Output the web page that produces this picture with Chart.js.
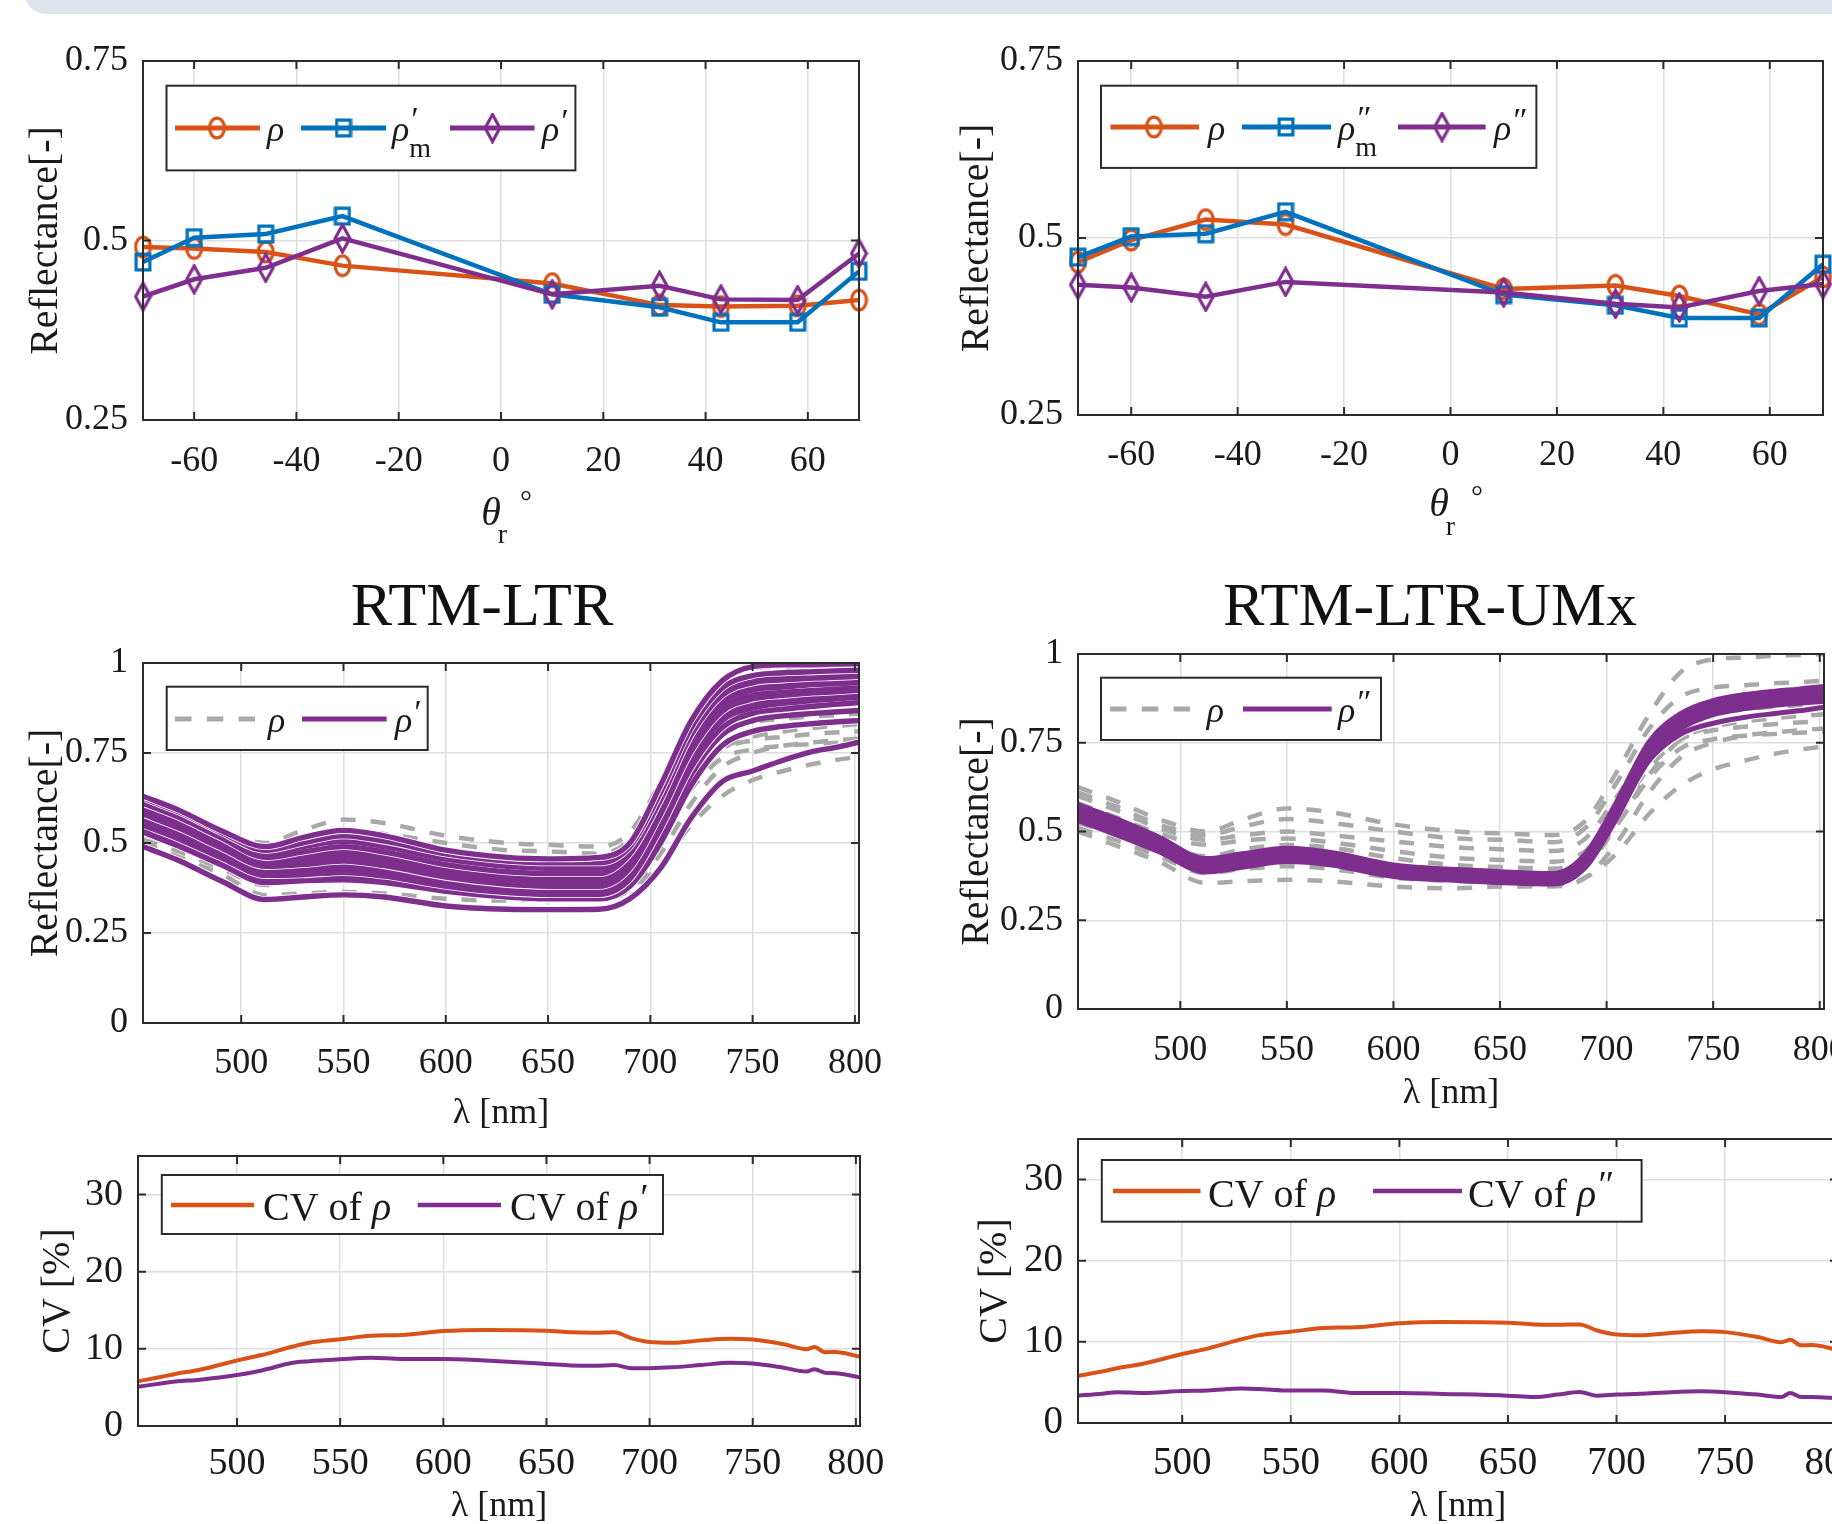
<!DOCTYPE html>
<html><head><meta charset="utf-8">
<script src="https://cdn.jsdelivr.net/npm/chart.js@4.4.0/dist/chart.umd.min.js"></script>
<style>
html,body{margin:0;padding:0;background:#fff;width:1832px;height:1524px;overflow:hidden;position:relative;}
canvas{position:absolute;}
.banner{position:absolute;left:24px;top:-30px;width:1900px;height:44px;background:#dde5ef;border-radius:30px;}
.ptitle{position:absolute;font-family:'Liberation Serif','DejaVu Serif',serif;font-size:62px;color:#111;transform:translate(-50%,-50%);white-space:nowrap;line-height:1;}
</style></head>
<body>
<div class="banner"></div>
<div class="ptitle" style="left:482px;top:604px">RTM-LTR</div>
<div class="ptitle" style="left:1430px;top:604px">RTM-LTR-UMx</div>
<script>
// ---------------- DATA ----------------
// top panels: reflected angle
const angles = [-70, -60, -46, -31, 10, 31, 43, 58, 70];
const angleTicks = [-60, -40, -20, 0, 20, 40, 60];
const angleTickLabels = ['-60', '-40', '-20', '0', '20', '40', '60'];
const reflTopTicks = [0.25, 0.5, 0.75];
const reflTopTickLabels = ['0.25', '0.5', '0.75'];
// (a) RTM-LTR
const aRho   = [0.491, 0.489, 0.484, 0.465, 0.440, 0.410, 0.408, 0.409, 0.417];
const aRhoM1 = [0.470, 0.504, 0.509, 0.534, 0.425, 0.407, 0.386, 0.386, 0.457];
const aRho1  = [0.422, 0.446, 0.462, 0.503, 0.425, 0.437, 0.418, 0.417, 0.482];
// (b) RTM-LTR-UMx
const bRho   = [0.466, 0.497, 0.526, 0.519, 0.428, 0.433, 0.418, 0.392, 0.445];
const bRhoM2 = [0.473, 0.502, 0.506, 0.537, 0.420, 0.405, 0.387, 0.387, 0.463];
const bRho2  = [0.434, 0.430, 0.417, 0.438, 0.423, 0.407, 0.402, 0.425, 0.435];

// spectra
const wl = [452, 470, 490, 512, 530, 550, 570, 600, 630, 650, 675, 690, 705, 720, 735, 750, 765, 780, 790, 802];
const wlTicks = [500, 550, 600, 650, 700, 750, 800];
const wlTickLabels = ['500', '550', '600', '650', '700', '750', '800'];
const reflTicks = [0, 0.25, 0.5, 0.75, 1];
const reflTickLabels = ['0', '0.25', '0.5', '0.75', '1'];
// measured rho (grey dashed, same in c and d)
const rhoS1 = [0.625,0.585,0.535,0.500,0.535,0.565,0.555,0.520,0.500,0.495,0.490,0.530,0.670,0.830,0.950,0.985,0.990,0.995,0.997,1.000];
const rhoS2 = [0.610,0.570,0.520,0.490,0.515,0.535,0.525,0.500,0.480,0.477,0.470,0.510,0.640,0.790,0.880,0.905,0.912,0.918,0.920,0.925];
const rhoS3 = [0.600,0.560,0.510,0.477,0.490,0.500,0.490,0.472,0.455,0.450,0.445,0.480,0.600,0.730,0.810,0.835,0.845,0.852,0.855,0.860];
const rhoS4 = [0.580,0.540,0.495,0.463,0.475,0.480,0.470,0.445,0.425,0.420,0.415,0.445,0.550,0.680,0.760,0.785,0.795,0.803,0.807,0.810];
const rhoS5 = [0.555,0.515,0.470,0.430,0.450,0.462,0.455,0.425,0.405,0.400,0.395,0.420,0.520,0.650,0.735,0.760,0.770,0.775,0.778,0.780];
const rhoS6 = [0.525,0.490,0.445,0.416,0.415,0.420,0.410,0.392,0.380,0.375,0.372,0.400,0.520,0.660,0.760,0.795,0.810,0.820,0.825,0.830];
const rhoS7 = [0.510,0.475,0.430,0.383,0.395,0.402,0.395,0.370,0.360,0.355,0.350,0.370,0.440,0.550,0.630,0.675,0.700,0.720,0.730,0.740];
const rhoS8 = [0.500,0.460,0.415,0.355,0.360,0.364,0.360,0.345,0.340,0.345,0.345,0.370,0.470,0.610,0.710,0.750,0.770,0.780,0.785,0.790];
// rho' (RTM-LTR, purple)
const rho1S1  = [0.630,0.590,0.535,0.490,0.515,0.535,0.520,0.480,0.460,0.456,0.460,0.500,0.660,0.840,0.950,0.990,0.995,0.995,0.997,0.998];
const rho1S2  = [0.625,0.585,0.530,0.480,0.500,0.520,0.505,0.470,0.450,0.445,0.445,0.490,0.640,0.820,0.930,0.965,0.973,0.976,0.978,0.980];
const rho1S3  = [0.620,0.580,0.525,0.470,0.490,0.505,0.490,0.455,0.435,0.430,0.430,0.480,0.630,0.810,0.920,0.955,0.962,0.966,0.968,0.970];
const rho1S4  = [0.610,0.570,0.515,0.460,0.475,0.490,0.475,0.440,0.420,0.415,0.415,0.470,0.620,0.800,0.910,0.945,0.953,0.958,0.960,0.963];
const rho1S5  = [0.600,0.560,0.505,0.455,0.465,0.478,0.465,0.430,0.410,0.405,0.405,0.460,0.610,0.790,0.900,0.932,0.940,0.945,0.948,0.950];
const rho1S6  = [0.595,0.555,0.500,0.450,0.458,0.470,0.455,0.420,0.400,0.395,0.395,0.450,0.600,0.780,0.890,0.925,0.933,0.940,0.942,0.945];
const rho1S7  = [0.590,0.548,0.495,0.442,0.450,0.460,0.445,0.412,0.392,0.388,0.387,0.440,0.590,0.765,0.875,0.910,0.918,0.924,0.927,0.930];
const rho1S8  = [0.580,0.540,0.487,0.435,0.440,0.450,0.437,0.405,0.385,0.380,0.380,0.430,0.580,0.755,0.865,0.900,0.910,0.917,0.920,0.924];
const rho1S9  = [0.570,0.530,0.478,0.427,0.432,0.440,0.428,0.398,0.378,0.373,0.372,0.420,0.565,0.740,0.850,0.885,0.895,0.902,0.906,0.910];
const rho1S10 = [0.560,0.520,0.470,0.418,0.420,0.428,0.418,0.390,0.370,0.365,0.365,0.410,0.555,0.730,0.840,0.875,0.888,0.896,0.900,0.905];
const rho1S11 = [0.550,0.510,0.460,0.410,0.412,0.418,0.408,0.380,0.362,0.357,0.357,0.400,0.540,0.710,0.820,0.860,0.872,0.880,0.885,0.890];
const rho1S12 = [0.540,0.500,0.450,0.400,0.400,0.405,0.397,0.372,0.355,0.350,0.350,0.390,0.520,0.690,0.800,0.840,0.853,0.860,0.864,0.868];
const rho1S13 = [0.530,0.490,0.440,0.390,0.395,0.398,0.390,0.366,0.350,0.345,0.345,0.380,0.500,0.660,0.770,0.810,0.824,0.832,0.836,0.840];
const rho1S14 = [0.490,0.450,0.395,0.343,0.350,0.356,0.350,0.325,0.316,0.315,0.316,0.345,0.430,0.570,0.670,0.700,0.730,0.755,0.765,0.780];
// rho'' (RTM-LTR-UMx, purple)
const rho2S1 = [0.575,0.535,0.483,0.423,0.437,0.452,0.441,0.405,0.392,0.386,0.381,0.435,0.585,0.752,0.832,0.868,0.885,0.895,0.900,0.908];
const rho2S2 = [0.568,0.528,0.477,0.417,0.432,0.447,0.436,0.400,0.388,0.382,0.377,0.430,0.578,0.745,0.826,0.862,0.879,0.889,0.894,0.902];
const rho2S3 = [0.562,0.522,0.471,0.411,0.426,0.441,0.431,0.395,0.383,0.377,0.373,0.425,0.572,0.739,0.820,0.856,0.873,0.883,0.888,0.896];
const rho2S4 = [0.556,0.516,0.466,0.406,0.421,0.436,0.426,0.390,0.379,0.373,0.369,0.420,0.566,0.733,0.814,0.850,0.867,0.877,0.882,0.890];
const rho2S5 = [0.550,0.510,0.460,0.401,0.416,0.431,0.421,0.386,0.375,0.369,0.365,0.415,0.560,0.727,0.808,0.845,0.862,0.872,0.877,0.885];
const rho2S6 = [0.544,0.504,0.455,0.396,0.411,0.426,0.416,0.382,0.371,0.365,0.361,0.410,0.554,0.721,0.802,0.840,0.857,0.867,0.872,0.880];
const rho2S7 = [0.538,0.498,0.449,0.391,0.406,0.421,0.411,0.378,0.367,0.361,0.357,0.405,0.548,0.715,0.797,0.835,0.852,0.862,0.867,0.874];
const rho2S8 = [0.532,0.492,0.444,0.387,0.401,0.416,0.407,0.374,0.363,0.357,0.353,0.400,0.542,0.709,0.791,0.830,0.847,0.857,0.862,0.868];
const rho2S9 = [0.548,0.508,0.458,0.398,0.413,0.428,0.418,0.384,0.372,0.366,0.362,0.405,0.545,0.700,0.775,0.805,0.822,0.833,0.840,0.850];

// coefficient of variation
const cvWl   = [452, 463, 470, 482, 500, 512, 527, 535, 550, 565, 580, 600, 620, 650, 662, 673, 683, 691, 700, 711, 725, 739, 750, 765, 776, 780, 785, 790, 802];
const cvRho  = [5.8, 6.35, 6.75, 7.3, 8.5, 9.2, 10.3, 10.8, 11.25, 11.7, 11.8, 12.3, 12.45, 12.35, 12.15, 12.1, 12.15, 11.4, 10.9, 10.8, 11.1, 11.3, 11.2, 10.6, 9.96, 10.25, 9.57, 9.6, 9.0];
const cvRho1 = [5.1, 5.5, 5.76, 6.0, 6.6, 7.2, 8.2, 8.4, 8.65, 8.85, 8.7, 8.7, 8.5, 8.05, 7.85, 7.8, 7.9, 7.5, 7.5, 7.6, 7.9, 8.2, 8.1, 7.55, 7.06, 7.36, 6.9, 6.84, 6.3];
const cvRho2 = [3.37, 3.6, 3.8, 3.7, 3.95, 4.0, 4.24, 4.2, 4.0, 4.0, 3.7, 3.7, 3.58, 3.37, 3.2, 3.5, 3.83, 3.37, 3.5, 3.6, 3.8, 3.9, 3.8, 3.5, 3.2, 3.7, 3.2, 3.2, 3.05];
const cvTicks = [0, 10, 20, 30];
const cvTickLabels = ['0', '10', '20', '30'];

// ---------------- STYLE ----------------
const FONT = "'Liberation Serif','DejaVu Serif',serif";
const ORA = '#D95319', BLU = '#0072BD', PUR = '#7E2F8E', GRY = '#a9a9a9', GRID = '#dedede', INK = '#1a1a1a', AX = '#2b2b2b';

function makeMarker(kind, color) {
  const c = document.createElement('canvas');
  const lw = 3.2, h2 = lw / 2;
  let w, h;
  if (kind === 'circle') { w = 19; h = 24; } else if (kind === 'square') { w = 18; h = 20; } else { w = 19; h = 31; }
  c.width = w; c.height = h;
  const g = c.getContext('2d');
  g.strokeStyle = color; g.lineWidth = lw; g.lineJoin = 'miter';
  g.beginPath();
  if (kind === 'circle') g.ellipse(w / 2, h / 2, w / 2 - h2 - 0.5, h / 2 - h2 - 0.5, 0, 0, Math.PI * 2);
  else if (kind === 'square') g.rect(h2 + 0.5, h2 + 0.5, w - lw - 1, h - lw - 1);
  else { g.moveTo(w / 2, h2 + 0.5); g.lineTo(w - h2 - 0.5, h / 2); g.lineTo(w / 2, h - h2 - 0.5); g.lineTo(h2 + 0.5, h / 2); g.closePath(); }
  g.stroke();
  return c;
}
const mCirc = makeMarker('circle', ORA), mSq = makeMarker('square', BLU), mDia = makeMarker('diamond', PUR);

const pts = (xs, ys) => xs.map((x, i) => ({x: x, y: ys[i]}));

function drawRuns(ctx, runs, x, y) {
  ctx.textAlign = 'left'; ctx.textBaseline = 'alphabetic'; ctx.fillStyle = INK;
  let cx = x;
  for (const r of runs) {
    ctx.font = r.f;
    ctx.fillText(r.t, cx, y + (r.dy || 0));
    if (!r.noAdv) cx += ctx.measureText(r.t).width + (r.adv || 0);
  }
}

const frame = {
  id: 'frame',
  afterDatasetsDraw(chart, args, o) {
    const ctx = chart.ctx, a = chart.chartArea, x = chart.scales.x, y = chart.scales.y;
    ctx.save();
    ctx.strokeStyle = AX; ctx.lineWidth = 2;
    ctx.beginPath();
    for (const t of x.ticks) {
      const p = x.getPixelForValue(t.value);
      ctx.moveTo(p, a.bottom); ctx.lineTo(p, a.bottom - 8);
      ctx.moveTo(p, a.top); ctx.lineTo(p, a.top + 8);
    }
    for (const t of y.ticks) {
      const p = y.getPixelForValue(t.value);
      ctx.moveTo(a.left, p); ctx.lineTo(a.left + 8, p);
      ctx.moveTo(a.right, p); ctx.lineTo(a.right - 8, p);
    }
    ctx.stroke();
    ctx.strokeRect(a.left, a.top, a.right - a.left, a.bottom - a.top);
    ctx.restore();
  },
  afterDraw(chart, args, o) {
    const ctx = chart.ctx, ox = o.ox, oy = o.oy, L = o.legend;
    ctx.save();
    if (L) {
      ctx.fillStyle = '#fff'; ctx.strokeStyle = AX; ctx.lineWidth = 2;
      ctx.fillRect(L.x1 - ox, L.y1 - oy, L.x2 - L.x1, L.y2 - L.y1);
      ctx.strokeRect(L.x1 - ox, L.y1 - oy, L.x2 - L.x1, L.y2 - L.y1);
      for (const it of L.items) {
        ctx.beginPath();
        ctx.strokeStyle = it.color; ctx.lineWidth = it.w || 4.8;
        ctx.setLineDash(it.dash || []);
        ctx.moveTo(it.l1 - ox, L.y - oy); ctx.lineTo(it.l2 - ox, L.y - oy);
        ctx.stroke(); ctx.setLineDash([]);
        if (it.marker) ctx.drawImage(it.marker, it.mx - ox - it.marker.width / 2, L.y - oy - it.marker.height / 2);
        drawRuns(ctx, it.runs, it.tx - ox, L.y - oy + L.base);
      }
    }
    if (o.extra) {
      ctx.fillStyle = INK; ctx.textAlign = 'center'; ctx.textBaseline = 'middle';
      for (const e of o.extra) { ctx.font = e.f; ctx.fillText(e.t, e.x - ox, e.y - oy); }
    }
    ctx.restore();
  }
};

function buildChart(P) {
  const ox = P.L - P.padL, oy = P.T - P.padT;
  const cw = Math.round(P.R - P.L + P.padL + P.padR), ch = Math.round(P.B - P.T + P.padT + P.padB);
  const cv = document.createElement('canvas');
  cv.width = cw; cv.height = ch;
  cv.style.left = ox + 'px'; cv.style.top = oy + 'px'; cv.style.width = cw + 'px'; cv.style.height = ch + 'px';
  document.body.appendChild(cv);
  const ds = P.datasets.slice().reverse();
  return new Chart(cv.getContext('2d'), {
    type: 'line',
    data: {datasets: ds},
    options: {
      responsive: false, animation: false, devicePixelRatio: 1,
      layout: {padding: {left: 0, top: P.padT, right: P.padR, bottom: 0}},
      elements: {line: {fill: false}},
      plugins: {legend: {display: false}, tooltip: {enabled: false},
        frame: {ox: ox, oy: oy, legend: P.legend, extra: P.extra}},
      scales: {
        x: {
          type: 'linear', min: P.xMin, max: P.xMax,
          afterBuildTicks: s => { s.ticks = P.xTicks.map(v => ({value: v})); },
          afterFit: s => { s.height = P.padB; s.paddingLeft = 0; s.paddingRight = 0; },
          grid: {color: GRID, lineWidth: 1.5, drawTicks: false},
          border: {display: false},
          ticks: {color: INK, font: {family: FONT, size: P.tickFont}, padding: P.xPad, maxRotation: 0, minRotation: 0, autoSkip: false,
            callback: v => P.xLabels[P.xTicks.indexOf(v)]},
          title: P.xTitle ? {display: true, text: P.xTitle, color: INK, font: {family: FONT, size: 36}, padding: {top: 0, bottom: P.xTitlePad}} : {display: false}
        },
        y: {
          type: 'linear', min: P.yMin, max: P.yMax,
          afterBuildTicks: s => { s.ticks = P.yTicks.map(v => ({value: v})); },
          afterFit: s => { s.width = P.padL; s.paddingTop = 0; s.paddingBottom = 0; },
          grid: {color: GRID, lineWidth: 1.5, drawTicks: false},
          border: {display: false},
          ticks: {color: INK, font: {family: FONT, size: P.tickFont}, padding: 15, autoSkip: false,
            callback: v => P.yLabels[P.yTicks.indexOf(v)]},
          title: {display: true, text: P.yTitle, color: INK, font: {family: FONT, size: P.yTitleFont}, padding: {top: P.yTitlePad, bottom: 0}}
        }
      }
    },
    plugins: [frame]
  });
}

const it36 = 'italic 36px ' + FONT, pr34 = 'italic 34px ' + FONT, sub28 = '28px ' + FONT;
const rhoRun = [{t: 'ρ', f: it36}];
const rhoPrimeRun = [{t: 'ρ', f: it36}, {t: '′', f: pr34, dy: -9}];
const rhoDPrimeRun = [{t: 'ρ', f: it36}, {t: '″', f: pr34, dy: -9}];
const rhoPrimeMRun = [{t: 'ρ', f: it36}, {t: '′', f: pr34, dy: -11, noAdv: true}, {t: 'm', f: sub28, dy: 16}];
const rhoDPrimeMRun = [{t: 'ρ', f: it36}, {t: '″', f: pr34, dy: -11, noAdv: true}, {t: 'm', f: sub28, dy: 16}];
const cvF = '40px ' + FONT, cvI = 'italic 40px ' + FONT, cvP = 'italic 38px ' + FONT;

const angDs = (ys, color, marker) => ({data: pts(angles, ys), borderColor: color, borderWidth: 4.5, pointStyle: marker, pointRadius: 10, tension: 0, clip: false});
const greyDs = ys => ({data: pts(wl, ys), borderColor: GRY, borderWidth: 4.5, borderDash: [15, 15], pointRadius: 0, cubicInterpolationMode: 'monotone', clip: 0});
const whiteDs = (ys, w) => ({data: pts(wl, ys), borderColor: '#ffffff', borderWidth: w, pointRadius: 0, cubicInterpolationMode: 'monotone', clip: 0});
const purDs = (ys, w) => ({data: pts(wl, ys), borderColor: PUR, borderWidth: w, pointRadius: 0, cubicInterpolationMode: 'monotone', clip: 0});
const cvDs = (ys, color) => ({data: pts(cvWl, ys), borderColor: color, borderWidth: 4, pointRadius: 0, cubicInterpolationMode: 'monotone', clip: false});

const rhoList = [rhoS1, rhoS2, rhoS3, rhoS4, rhoS5, rhoS6, rhoS7, rhoS8];
// drawn bottom to top; seamed curves get a thin white outline
const rho1List = [rho1S14, rho1S13, rho1S12, rho1S11, rho1S10, rho1S9, rho1S8, rho1S7, rho1S6, rho1S5, rho1S4, rho1S3, rho1S2, rho1S1];
const rho1Seamed = [rho1S14, rho1S13, rho1S11, rho1S8, rho1S4, rho1S2, rho1S1];
const rho2Band = [rho2S8, rho2S7, rho2S6, rho2S5, rho2S4, rho2S3, rho2S2, rho2S1];

function setsC() {
  const out = rhoList.map(greyDs);
  for (const s of rho1List) {
    if (rho1Seamed.includes(s)) out.push(whiteDs(s, 7));
    out.push(purDs(s, 5.4));
  }
  return out;
}
function setsD() {
  const out = rhoList.map(greyDs);
  out.push(whiteDs(rho2S9, 7)); out.push(purDs(rho2S9, 5));
  for (const s of rho2Band) out.push(purDs(s, 5.6));
  return out;
}

// (a)
buildChart({L: 143, T: 61, R: 859, B: 420, padL: 143, padT: 40, padR: 40, padB: 140,
  xMin: -70, xMax: 70, xTicks: angleTicks, xLabels: angleTickLabels, xPad: 19.5, tickFont: 36,
  yMin: 0.25, yMax: 0.75, yTicks: reflTopTicks, yLabels: reflTopTickLabels,
  yTitle: 'Reflectance[-]', yTitleFont: 40, yTitlePad: 22.7,
  datasets: [angDs(aRho, ORA, mCirc), angDs(aRhoM1, BLU, mSq), angDs(aRho1, PUR, mDia)],
  legend: {x1: 166.5, y1: 85.7, x2: 575.4, y2: 170.4, y: 128, base: 13, items: [
    {l1: 175, l2: 260, mx: 217, marker: mCirc, color: ORA, tx: 267, runs: rhoRun},
    {l1: 301, l2: 386, mx: 343.5, marker: mSq, color: BLU, tx: 392, runs: rhoPrimeMRun},
    {l1: 450, l2: 534.5, mx: 492.5, marker: mDia, color: PUR, tx: 542, runs: rhoPrimeRun}]},
  extra: [{t: 'θ', f: 'italic 40px ' + FONT, x: 491, y: 514}, {t: 'r', f: '28px ' + FONT, x: 502.5, y: 536}, {t: '°', f: '30px ' + FONT, x: 526, y: 503}]
});
// (b)
buildChart({L: 1078, T: 61, R: 1823, B: 415, padL: 150, padT: 40, padR: 40, padB: 140,
  xMin: -70, xMax: 70, xTicks: angleTicks, xLabels: angleTickLabels, xPad: 19, tickFont: 36,
  yMin: 0.25, yMax: 0.75, yTicks: reflTopTicks, yLabels: reflTopTickLabels,
  yTitle: 'Reflectance[-]', yTitleFont: 40, yTitlePad: 25,
  datasets: [angDs(bRho, ORA, mCirc), angDs(bRhoM2, BLU, mSq), angDs(bRho2, PUR, mDia)],
  legend: {x1: 1101, y1: 85.7, x2: 1536.4, y2: 167.9, y: 127, base: 13, items: [
    {l1: 1110.5, l2: 1199, mx: 1154, marker: mCirc, color: ORA, tx: 1208, runs: rhoRun},
    {l1: 1242, l2: 1331, mx: 1286, marker: mSq, color: BLU, tx: 1338, runs: rhoDPrimeMRun},
    {l1: 1398, l2: 1485.6, mx: 1442, marker: mDia, color: PUR, tx: 1494, runs: rhoDPrimeRun}]},
  extra: [{t: 'θ', f: 'italic 40px ' + FONT, x: 1439, y: 505}, {t: 'r', f: '28px ' + FONT, x: 1450.5, y: 528}, {t: '°', f: '30px ' + FONT, x: 1477, y: 498}]
});
// (c)
buildChart({L: 143, T: 663, R: 859, B: 1023, padL: 143, padT: 40, padR: 40, padB: 130,
  xMin: 452, xMax: 802, xTicks: wlTicks, xLabels: wlTickLabels, xPad: 19, tickFont: 36,
  xTitle: 'λ [nm]', xTitlePad: 17.4,
  yMin: 0, yMax: 1, yTicks: reflTicks, yLabels: reflTickLabels,
  yTitle: 'Reflectance[-]', yTitleFont: 40, yTitlePad: 22.7,
  datasets: setsC(),
  legend: {x1: 166.7, y1: 686.7, x2: 427.7, y2: 750, y: 719, base: 13, items: [
    {l1: 175, l2: 255, color: GRY, dash: [16.5, 15.3], tx: 268, runs: rhoRun},
    {l1: 302, l2: 386.7, color: PUR, tx: 395, runs: rhoPrimeRun}]}
});
// (d)
buildChart({L: 1078, T: 654, R: 1824, B: 1009, padL: 150, padT: 40, padR: 40, padB: 130,
  xMin: 452, xMax: 802, xTicks: wlTicks, xLabels: wlTickLabels, xPad: 20, tickFont: 36,
  xTitle: 'λ [nm]', xTitlePad: 23.4,
  yMin: 0, yMax: 1, yTicks: reflTicks, yLabels: reflTickLabels,
  yTitle: 'Reflectance[-]', yTitleFont: 40, yTitlePad: 25.3,
  datasets: setsD(),
  legend: {x1: 1101, y1: 677.7, x2: 1381, y2: 740, y: 709, base: 13, items: [
    {l1: 1110, l2: 1195, color: GRY, dash: [16.5, 15.3], tx: 1206.7, runs: rhoRun},
    {l1: 1243, l2: 1331.7, color: PUR, tx: 1338, runs: rhoDPrimeRun}]}
});
// (e)
buildChart({L: 138, T: 1156, R: 860, B: 1426, padL: 138, padT: 40, padR: 40, padB: 130,
  xMin: 452, xMax: 802, xTicks: wlTicks, xLabels: wlTickLabels, xPad: 15, tickFont: 38,
  xTitle: 'λ [nm]', xTitlePad: 27.4,
  yMin: 0, yMax: 35, yTicks: cvTicks, yLabels: cvTickLabels,
  yTitle: 'CV [%]', yTitleFont: 40, yTitlePad: 34.4,
  datasets: [cvDs(cvRho, ORA), cvDs(cvRho1, PUR)],
  legend: {x1: 161.8, y1: 1175, x2: 663, y2: 1234, y: 1205, base: 15, items: [
    {l1: 171, l2: 254, color: ORA, w: 4.5, tx: 263, runs: [{t: 'CV of ', f: cvF}, {t: 'ρ', f: cvI}]},
    {l1: 417.7, l2: 501, color: PUR, w: 4.5, tx: 510, runs: [{t: 'CV of ', f: cvF}, {t: 'ρ', f: cvI}, {t: '′', f: cvP, dy: -10}]}]}
});
// (f)
buildChart({L: 1078, T: 1139, R: 1838, B: 1423, padL: 150, padT: 40, padR: 40, padB: 130,
  xMin: 452, xMax: 802, xTicks: wlTicks, xLabels: wlTickLabels, xPad: 17, tickFont: 39,
  xTitle: 'λ [nm]', xTitlePad: 24.4,
  yMin: 0, yMax: 35, yTicks: cvTicks, yLabels: cvTickLabels,
  yTitle: 'CV [%]', yTitleFont: 40, yTitlePad: 43,
  datasets: [cvDs(cvRho, ORA), cvDs(cvRho2, PUR)],
  legend: {x1: 1101.8, y1: 1160, x2: 1641.6, y2: 1221.7, y: 1191, base: 16, items: [
    {l1: 1113, l2: 1200.5, color: ORA, w: 4.5, tx: 1208, runs: [{t: 'CV of ', f: cvF}, {t: 'ρ', f: cvI}]},
    {l1: 1373, l2: 1462, color: PUR, w: 4.5, tx: 1468, runs: [{t: 'CV of ', f: cvF}, {t: 'ρ', f: cvI}, {t: '″', f: cvP, dy: -10}]}]}
});
</script>
</body></html>
